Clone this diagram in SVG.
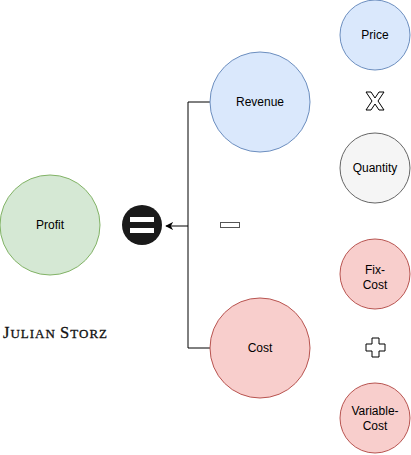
<svg xmlns="http://www.w3.org/2000/svg" width="411" height="455" viewBox="0 0 411 455">
<defs>
<style>
.lbl{font-family:"Liberation Sans",Arial,sans-serif;font-size:12px;fill:#000;text-anchor:middle}
.g{fill:#d5e8d4;stroke:#82b366}
.b{fill:#dae8fc;stroke:#6c8ebf}
.q{fill:#f5f5f5;stroke:#666666}
.r{fill:#f8cecc;stroke:#b85450}
.conn{fill:none;stroke:#000;stroke-width:1}
</style>
<marker id="arr" viewBox="0 0 10 10" refX="9" refY="5" markerWidth="8" markerHeight="8" markerUnits="userSpaceOnUse" orient="auto">
<path d="M0,0 L10,5 L0,10 L3,5 Z" fill="#000"/>
</marker>
</defs>
<rect width="411" height="455" fill="#fff"/>
<g id="connectors">
<path class="conn" d="M210,102 H188 V348 H210"/>
<path class="conn" d="M188,226 H166" marker-end="url(#arr)"/>
</g>
<g id="profit"><circle class="g" cx="50" cy="225" r="50"/><text class="lbl" x="50" y="229">Profit</text></g>
<g id="revenue"><circle class="b" cx="260" cy="102" r="50"/><text class="lbl" x="260" y="106">Revenue</text></g>
<g id="cost"><circle class="r" cx="260" cy="348" r="50"/><text class="lbl" x="260" y="352">Cost</text></g>
<g id="price"><circle class="b" cx="375" cy="35" r="35"/><text class="lbl" x="375" y="39">Price</text></g>
<g id="quantity"><circle class="q" cx="375" cy="168" r="35"/><text class="lbl" x="375" y="172">Quantity</text></g>
<g id="fixcost"><circle class="r" cx="375" cy="274" r="35"/><text class="lbl" x="375" y="274">Fix-</text><text class="lbl" x="375" y="289">Cost</text></g>
<g id="variablecost"><circle class="r" cx="375" cy="418" r="35"/><text class="lbl" x="375" y="415">Variable-</text><text class="lbl" x="375" y="430">Cost</text></g>
<g id="equals"><circle cx="142" cy="225" r="20" fill="#1a1a1a"/><rect x="130" y="217" width="24" height="5" fill="#fff"/><rect x="130" y="228" width="24" height="5" fill="#fff"/></g>
<g id="minus"><rect x="220.5" y="222.5" width="19" height="5" fill="#fff" stroke="#555"/></g>
<g id="times"><path d="M366,92 H371 L375,98 L379,92 H384 L378,101 L384,110 H379 L375,104 L371,110 H366 L372,101 Z" fill="#fff" stroke="#000" stroke-width="1"/></g>
<g id="plus"><path d="M372,338 H379 V344 H385 V351 H379 V357 H372 V351 H366 V344 H372 Z" fill="#fff" stroke="#000" stroke-width="1"/></g>
<text x="3" y="338" font-family="'Liberation Serif','Times New Roman',serif" fill="#111" stroke="#111" stroke-width="0.3" letter-spacing="1"><tspan font-size="16.5">J</tspan><tspan font-size="13">ULIAN </tspan><tspan font-size="16.5">S</tspan><tspan font-size="13">TORZ</tspan></text>
</svg>
